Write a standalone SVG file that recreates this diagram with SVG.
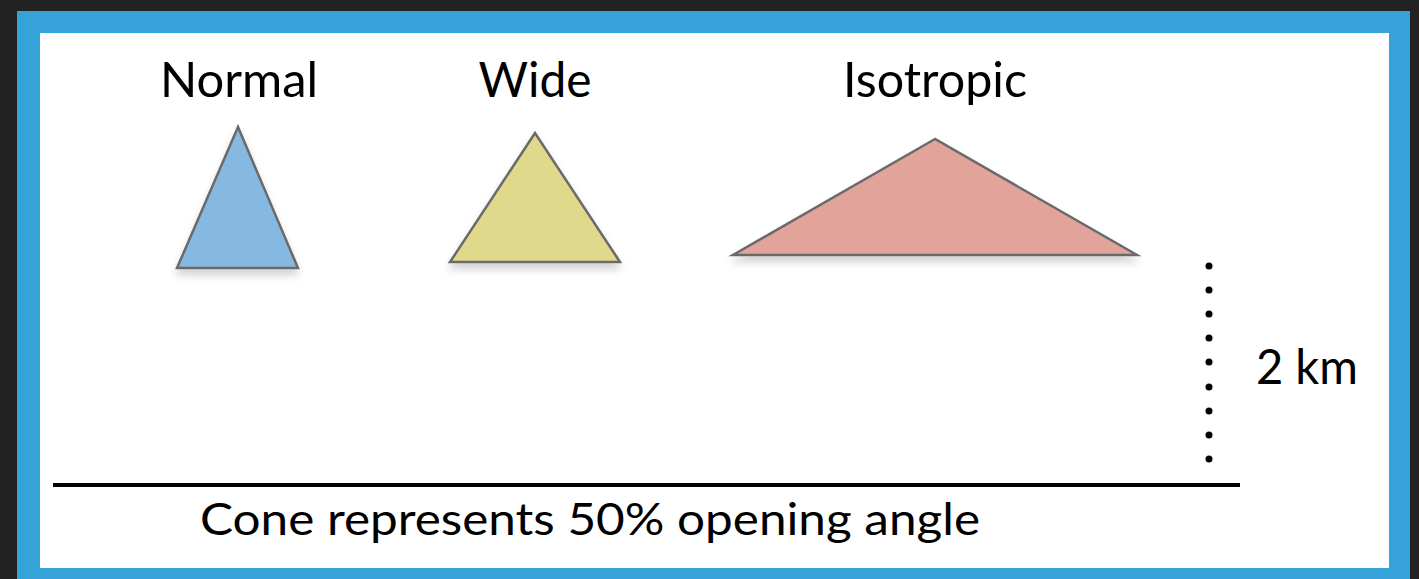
<svg xmlns="http://www.w3.org/2000/svg" width="1419" height="579" viewBox="0 0 1419 579">
<defs>
<style>
.lbl{font-family:Lato,"Noto Sans","Liberation Sans",sans-serif;fill:#000;text-anchor:middle}
.tri{stroke:#6b6b6b;stroke-width:2.5;stroke-linejoin:miter;filter:url(#sh)}
.dot{fill:#000}
</style>
<filter id="sh" x="-20%" y="-20%" width="140%" height="150%">
<feGaussianBlur in="SourceAlpha" stdDeviation="4"/>
<feOffset dy="6"/>
<feComponentTransfer><feFuncA type="linear" slope="0.18"/></feComponentTransfer>
<feMerge><feMergeNode/><feMergeNode in="SourceGraphic"/></feMerge>
</filter>
</defs>
<rect x="0" y="0" width="1419" height="579" fill="#222222"/>
<rect x="17" y="11" width="1393" height="568" fill="#35a3d9"/>
<rect x="40" y="33" width="1349" height="535" fill="#ffffff"/>
<g id="normal">
<polygon class="tri" points="238,127 177,268 298,268" fill="#86b9e1"/>
<text class="lbl" x="239" y="97" font-size="48" textLength="158" lengthAdjust="spacingAndGlyphs">Normal</text>
</g>
<g id="wide">
<polygon class="tri" points="535,133 450,262 620,262" fill="#e0d98b"/>
<text class="lbl" x="535" y="97" font-size="48" textLength="113" lengthAdjust="spacingAndGlyphs">Wide</text>
</g>
<g id="isotropic">
<polygon class="tri" points="935,139 733,255 1137,255" fill="#e2a39a"/>
<text class="lbl" x="935" y="97" font-size="48" textLength="184" lengthAdjust="spacingAndGlyphs">Isotropic</text>
</g>
<g id="scale">
<line x1="53" y1="485" x2="1240" y2="485" stroke="#000" stroke-width="4"/>
<circle class="dot" cx="1209" cy="266" r="3.5"/>
<circle class="dot" cx="1209" cy="290" r="3.5"/>
<circle class="dot" cx="1209" cy="314" r="3.5"/>
<circle class="dot" cx="1209" cy="338" r="3.5"/>
<circle class="dot" cx="1209" cy="362" r="3.5"/>
<circle class="dot" cx="1209" cy="387" r="3.5"/>
<circle class="dot" cx="1209" cy="411" r="3.5"/>
<circle class="dot" cx="1209" cy="435" r="3.5"/>
<circle class="dot" cx="1209" cy="459" r="3.5"/>
<text class="lbl" x="1307" y="384" font-size="48" textLength="102" lengthAdjust="spacingAndGlyphs">2 km</text>
<text class="lbl" x="590" y="535" font-size="44" textLength="780" lengthAdjust="spacingAndGlyphs">Cone represents 50% opening angle</text>
</g>
</svg>
